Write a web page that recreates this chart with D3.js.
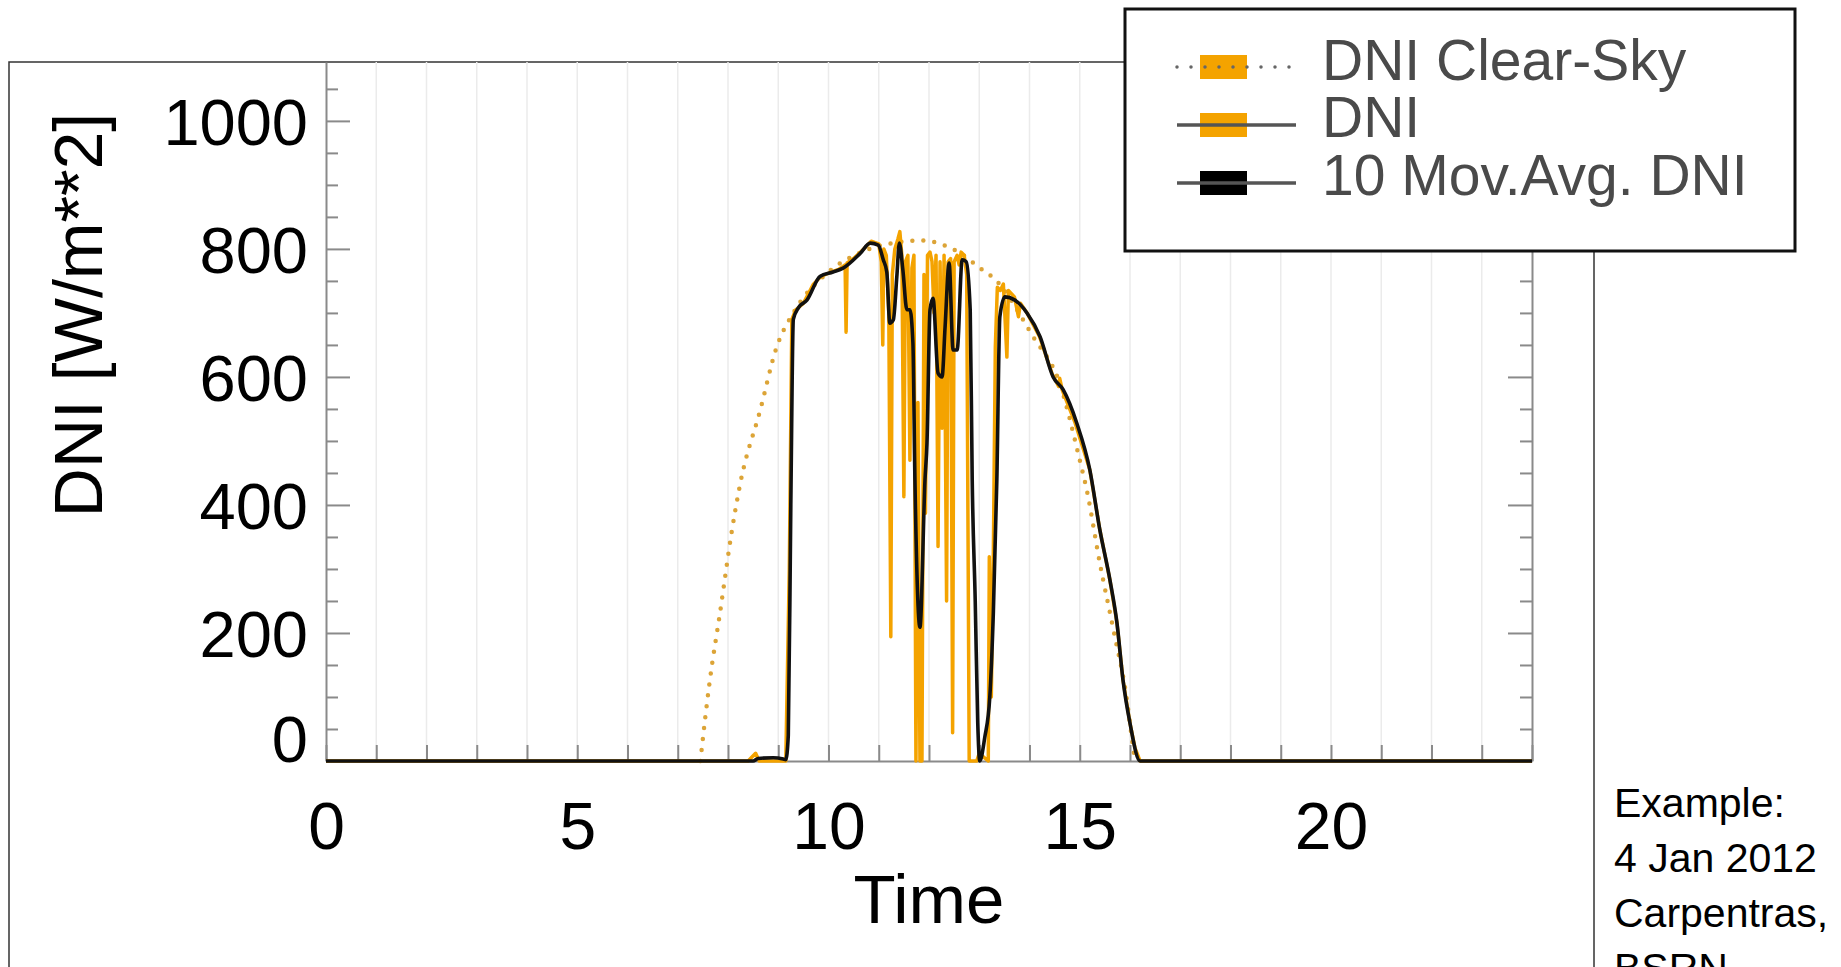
<!DOCTYPE html>
<html>
<head>
<meta charset="utf-8">
<script src="https://cdn.jsdelivr.net/npm/d3@7"></script>
<style>
  html, body { margin: 0; padding: 0; background: #fff; }
  svg { display: block; }
</style>
</head>
<body>
<div id="vis"></div>
<script>
// hour of day, W/m**2
const clearSky = [
  [7.45, 0], [7.64, 127], [7.84, 231], [8.08, 361], [8.24, 432], [8.64, 548],
  [8.97, 647], [9.3, 700], [9.97, 762], [10.63, 794], [11.2, 808], [11.86, 813],
  [12.52, 798], [13.07, 767], [13.28, 755], [14.07, 663], [14.6, 590], [15.0, 470],
  [15.14, 423], [15.4, 309], [15.67, 205], [15.93, 100], [16.06, 22], [16.1, 0]
];

const dni = [
  [0, 0], [8.4, 0], [8.55, 12], [8.62, 0], [9.15, 0], [9.22, 300], [9.27, 690],
  [9.35, 705], [9.5, 715], [9.7, 745], [9.85, 757], [10.0, 762], [10.2, 768],
  [10.33, 775], [10.35, 670], [10.37, 778], [10.5, 785], [10.7, 800], [10.85, 812],
  [11.0, 808], [11.05, 780], [11.08, 650], [11.1, 800], [11.15, 790], [11.2, 700],
  [11.24, 194], [11.27, 760], [11.32, 800], [11.38, 815], [11.42, 827], [11.46, 790],
  [11.5, 413], [11.53, 780], [11.58, 790], [11.62, 470], [11.66, 770], [11.7, 790],
  [11.74, 0], [11.78, 560], [11.82, 0], [11.86, 0], [11.9, 760], [11.93, 387],
  [11.97, 790], [12.02, 795], [12.06, 780], [12.1, 700], [12.14, 790], [12.18, 335],
  [12.22, 780], [12.26, 520], [12.3, 790], [12.35, 250], [12.38, 780], [12.43, 785],
  [12.47, 44], [12.5, 780], [12.56, 790], [12.6, 775], [12.64, 795], [12.7, 790],
  [12.75, 760], [12.8, 0], [12.95, 0], [13.0, 12], [13.18, 0], [13.2, 319],
  [13.24, 100], [13.28, 320], [13.32, 647], [13.36, 740], [13.42, 735], [13.48, 745],
  [13.55, 631], [13.58, 735], [13.7, 725], [13.78, 694], [13.82, 715], [13.95, 700],
  [14.2, 663], [14.45, 605], [14.58, 585], [14.6, 598], [14.65, 580], [14.9, 530],
  [15.2, 455], [15.4, 361], [15.6, 283], [15.74, 216], [15.86, 127], [16.0, 59],
  [16.1, 20], [16.2, 0], [24, 0]
];

const movAvg = [
  [0, 0], [8.5, 0], [8.6, 4], [8.9, 5], [9.1, 3], [9.15, 2], [9.2, 40], [9.25, 400],
  [9.3, 690], [9.4, 708], [9.57, 720], [9.83, 757], [10.09, 764], [10.29, 770],
  [10.63, 793], [10.83, 809], [10.99, 806], [11.09, 783], [11.16, 764], [11.22, 684],
  [11.29, 689], [11.36, 757], [11.41, 809], [11.48, 767], [11.56, 705], [11.62, 705],
  [11.68, 653], [11.72, 439], [11.82, 209], [11.92, 439], [11.96, 497], [12.02, 705],
  [12.08, 723], [12.18, 606], [12.26, 600], [12.32, 678], [12.4, 778], [12.48, 642],
  [12.56, 642], [12.66, 783], [12.74, 780], [12.82, 705], [12.86, 439], [12.92, 250],
  [12.97, 60], [13.01, 0], [13.11, 37], [13.21, 100], [13.28, 231], [13.35, 439],
  [13.41, 694], [13.51, 725], [13.71, 720], [13.95, 700], [14.21, 663], [14.47, 600],
  [14.67, 580], [14.94, 528], [15.2, 455], [15.4, 361], [15.6, 283], [15.74, 216],
  [15.86, 127], [16.0, 59], [16.2, 0], [24, 0]
];

const yMajor = [0, 200, 400, 600, 800, 1000];
const yMinor = [50, 100, 150, 250, 300, 350, 450, 500, 550, 650, 700, 750, 850, 900, 950, 1050];
const xHours = d3.range(0, 25);
const xLabels = [0, 5, 10, 15, 20];

const legendItems = ["DNI Clear-Sky", "DNI", "10 Mov.Avg. DNI"];
const noteLines = ["Example:", "4 Jan 2012", "Carpentras,", "BSRN"];

const orange = "#f4a300";
const axisGray = "#8a8a8a";
const font = "'Liberation Sans', Arial, Helvetica, sans-serif";

const W = 1841, H = 967;
const plot = { left: 326, right: 1532, top: 62, bottom: 761 };

const svg = d3.select("#vis")
  .append("svg")
  .attr("width", W)
  .attr("height", H);

svg.append("rect").attr("width", W).attr("height", H).attr("fill", "#fff");

const x = d3.scaleLinear().domain([0, 24]).range([plot.left, plot.right]);
const y = d3.scaleLinear().domain([0, 1092]).range([plot.bottom, plot.top]);

// outer frame
svg.append("rect")
  .attr("x", 9)
  .attr("y", 62)
  .attr("width", 1594 - 9)
  .attr("height", 1000)
  .attr("fill", "none")
  .attr("stroke", "#333")
  .attr("stroke-width", 1.5);

// hourly grid
svg.append("g")
  .selectAll("line")
  .data(xHours.slice(1, -1))
  .join("line")
  .attr("x1", d => x(d))
  .attr("x2", d => x(d))
  .attr("y1", plot.top)
  .attr("y2", plot.bottom)
  .attr("stroke", "#ebebeb")
  .attr("stroke-width", 1.5);

function styleAxis(g) {
  g.selectAll("path, line").attr("stroke", axisGray).attr("stroke-width", 2);
  g.attr("font-family", font);
}

// left axis
const yLeft = svg.append("g")
  .attr("transform", `translate(${plot.left},0)`)
  .call(d3.axisLeft(y)
    .tickValues(yMajor)
    .tickSize(-24)
    .tickSizeOuter(0)
    .tickPadding(18)
    .tickFormat(d3.format("d")));
yLeft.call(styleAxis);
yLeft.selectAll("text")
  .attr("font-size", 65)
  .attr("fill", "#000")
  .attr("dy", "0.36em")
  .attr("y", d => d === 0 ? -23 : 0);

svg.append("g")
  .attr("transform", `translate(${plot.left},0)`)
  .call(d3.axisLeft(y).tickValues(yMinor).tickSize(-12).tickSizeOuter(0).tickFormat(""))
  .call(styleAxis)
  .select(".domain").remove();

// right axis
svg.append("g")
  .attr("transform", `translate(${plot.right},0)`)
  .call(d3.axisRight(y).tickValues(yMajor).tickSize(-24).tickSizeOuter(0).tickFormat(""))
  .call(styleAxis);

svg.append("g")
  .attr("transform", `translate(${plot.right},0)`)
  .call(d3.axisRight(y).tickValues(yMinor).tickSize(-12).tickSizeOuter(0).tickFormat(""))
  .call(styleAxis)
  .select(".domain").remove();

// bottom axis
const xAxis = svg.append("g")
  .attr("transform", `translate(0,${plot.bottom})`)
  .call(d3.axisBottom(x)
    .tickValues(xHours)
    .tickSize(-16)
    .tickSizeOuter(0)
    .tickPadding(41)
    .tickFormat(d => xLabels.includes(d) ? d : ""));
xAxis.call(styleAxis);
xAxis.selectAll("text")
  .attr("font-size", 66)
  .attr("fill", "#000");

// clear-sky dotted curve
svg.append("path")
  .datum(clearSky)
  .attr("fill", "none")
  .attr("stroke", "#dca437")
  .attr("stroke-width", 4.5)
  .attr("stroke-linecap", "round")
  .attr("stroke-dasharray", "0,11")
  .attr("d", d3.line().x(d => x(d[0])).y(d => y(d[1])).curve(d3.curveMonotoneX));

// DNI
svg.append("path")
  .datum(dni)
  .attr("fill", "none")
  .attr("stroke", orange)
  .attr("stroke-width", 3.5)
  .attr("stroke-linejoin", "round")
  .attr("d", d3.line().x(d => x(d[0])).y(d => y(d[1])));

// moving average
svg.append("path")
  .datum(movAvg)
  .attr("fill", "none")
  .attr("stroke", "#111")
  .attr("stroke-width", 3.6)
  .attr("stroke-linejoin", "round")
  .attr("d", d3.line().x(d => x(d[0])).y(d => y(d[1])).curve(d3.curveMonotoneX));

// axis titles
svg.append("text")
  .attr("x", (plot.left + plot.right) / 2)
  .attr("y", 923)
  .attr("text-anchor", "middle")
  .attr("font-family", font)
  .attr("font-size", 69)
  .text("Time");

svg.append("text")
  .attr("transform", "rotate(-90)")
  .attr("x", -315)
  .attr("y", 102)
  .attr("text-anchor", "middle")
  .attr("font-family", font)
  .attr("font-size", 68)
  .text("DNI [W/m**2]");

// legend
const legend = svg.append("g");
legend.append("rect")
  .attr("x", 1125)
  .attr("y", 9)
  .attr("width", 1795 - 1125)
  .attr("height", 251 - 9)
  .attr("fill", "#fff")
  .attr("stroke", "#111")
  .attr("stroke-width", 3);

const rowY = [67, 125, 183];
const textY = [80, 137, 195];
legendItems.forEach((label, i) => {
  const cy = rowY[i];
  legend.append("rect")
    .attr("x", 1200)
    .attr("y", cy - 12)
    .attr("width", 47)
    .attr("height", 24)
    .attr("fill", i === 2 ? "#000" : orange);
  const ln = legend.append("line")
    .attr("x1", 1177)
    .attr("x2", 1296)
    .attr("y1", cy)
    .attr("y2", cy)
    .attr("stroke", "#555")
    .attr("stroke-width", 3.5);
  if (i === 0) {
    ln.attr("stroke-dasharray", "0,14").attr("stroke-linecap", "round").attr("stroke", "#666");
  }
  legend.append("text")
    .attr("x", 1322)
    .attr("y", textY[i])
    .attr("font-family", font)
    .attr("font-size", 57)
    .attr("fill", "#4a4a4a")
    .text(label);
});

// side note
const noteY = [817, 872, 927, 982];
noteLines.forEach((t, i) => {
  svg.append("text")
    .attr("x", 1614)
    .attr("y", noteY[i])
    .attr("font-family", font)
    .attr("font-size", 41)
    .attr("fill", "#000")
    .text(t);
});
</script>
</body>
</html>
